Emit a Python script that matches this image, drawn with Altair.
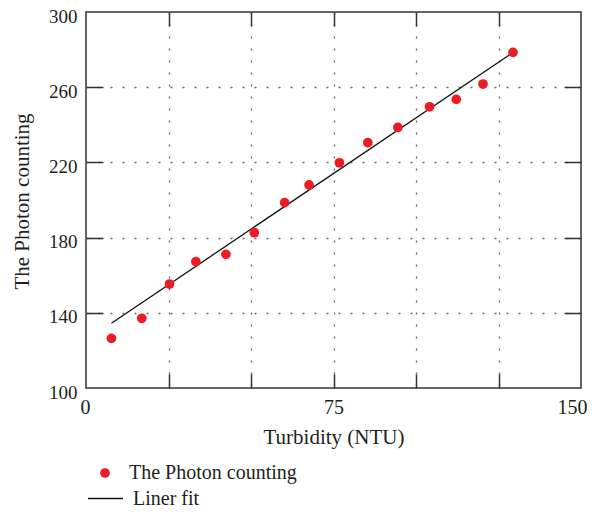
import altair as alt
import pandas as pd

# ---- data ----
turbidity = [7.7, 16.9, 25.3, 33.3, 42.4, 51.0, 60.2, 67.6, 76.8, 85.4, 94.5, 104.1, 112.2, 120.3, 129.4]
photon = [126.4, 137.1, 155.3, 167.2, 171.1, 182.6, 198.6, 208.0, 219.8, 230.5, 238.6, 249.6, 253.5, 261.7, 278.5]
fit_x = [7.7, 129.4]
fit_y = [134.4, 278.5]
x_label_values = [0, 75, 150]
y_label_values = [100, 140, 180, 220, 260, 300]
x_inner_ticks = [25, 50, 75, 100, 125]
y_inner_ticks = [140, 180, 220, 260]
point_series = "The Photon counting"
fit_series = "Liner fit"

pts = pd.DataFrame({"x": turbidity, "y": photon, "series": [point_series] * len(turbidity)})
fit = pd.DataFrame({"x": fit_x, "y": fit_y, "fitname": [fit_series] * len(fit_x)})

FONT = "Liberation Serif"
TXT = "#231f20"
FRAME = "#333333"
W, H = 495, 376

xs = alt.Scale(domain=[0, 150], nice=False, zero=False)
ys = alt.Scale(domain=[100, 300], nice=False, zero=False)

x_main = alt.Axis(orient="bottom", values=x_label_values, ticks=False, tickSize=0, domain=False,
                  grid=False, labelFont=FONT, labelFontSize=20, labelColor=TXT, labelPadding=25,
                  labelBaseline="alphabetic", labelFlush=True, labelFlushOffset=6,
                  labelOverlap=False,
                  title="Turbidity (NTU)", titleFont=FONT, titleFontSize=21, titleFontWeight="normal",
                  titleColor=TXT, titleX=W / 2, titleY=55, titleAlign="center",
                  titleBaseline="alphabetic")
y_main = alt.Axis(orient="left", values=y_label_values, ticks=False, tickSize=0, domain=False,
                  grid=False, labelFont=FONT, labelFontSize=19, labelColor=TXT, labelPadding=9,
                  labelAlign="right", labelBaseline="middle", labelOffset=4, labelFlush=False,
                  labelOverlap=False, title="The Photon counting", titleFont=FONT, titleFontSize=21,
                  titleFontWeight="normal", titleColor=TXT, titleAngle=270, titleX=-58,
                  titleY=H / 2 + 1, titleAlign="center", titleBaseline="alphabetic")

x_grid = alt.Axis(orient="bottom", values=x_inner_ticks, grid=True, gridDash=[2, 10],
                  gridColor="#666666", gridWidth=1.3, ticks=False, labels=False, domain=False, title=None)
y_grid = alt.Axis(orient="left", values=y_inner_ticks, grid=True, gridDash=[2, 10],
                  gridColor="#666666", gridWidth=1.3, ticks=False, labels=False, domain=False, title=None)


def tick_axis(orient, values, size):
    return alt.Axis(orient=orient, values=values, offset=-size, tickSize=size, ticks=True,
                    tickColor=FRAME, tickWidth=1.5, labels=False, domain=False, grid=False, title=None)


grid_layer = alt.Chart(pts).mark_point(opacity=0).encode(
    x=alt.X("x:Q", scale=xs, axis=x_grid),
    y=alt.Y("y:Q", scale=ys, axis=y_grid),
)

line_layer = alt.Chart(fit).mark_line(strokeWidth=1.3).encode(
    x=alt.X("x:Q", scale=xs, axis=None),
    y=alt.Y("y:Q", scale=ys, axis=None),
    stroke=alt.Stroke("fitname:N", scale=alt.Scale(domain=[fit_series], range=["#111111"]),
                      legend=alt.Legend(orient="none", legendX=1, legendY=468, padding=0, title=None,
                                        symbolType="stroke", symbolSize=1225, symbolStrokeWidth=1.3,
                                        labelOffset=9, labelFont=FONT, labelFontSize=20,
                                        labelColor=TXT, labelLimit=400)),
)

point_layer = alt.Chart(pts).mark_circle(size=95, opacity=1).encode(
    x=alt.X("x:Q", scale=xs, axis=x_main),
    y=alt.Y("y:Q", scale=ys, axis=y_main),
    color=alt.Color("series:N", scale=alt.Scale(domain=[point_series], range=["#ed1c24"]),
                    legend=alt.Legend(orient="none", legendX=9, legendY=451, padding=0, title=None,
                                      symbolType="circle", symbolSize=95, symbolOpacity=1,
                                      labelOffset=14, labelFont=FONT, labelFontSize=20,
                                      labelColor=TXT, labelLimit=400)),
)

ticks_a = alt.Chart(pts).mark_point(opacity=0).encode(
    x=alt.X("x:Q", scale=xs, axis=tick_axis("bottom", x_inner_ticks, 14)),
    y=alt.Y("y:Q", scale=ys, axis=tick_axis("left", y_inner_ticks, 17)),
)
ticks_b = alt.Chart(pts).mark_point(opacity=0).encode(
    x=alt.X("x:Q", scale=xs, axis=tick_axis("top", x_inner_ticks, 14)),
    y=alt.Y("y:Q", scale=ys, axis=tick_axis("right", y_inner_ticks, 17)),
)

chart = alt.layer(grid_layer, line_layer, point_layer, ticks_a, ticks_b).resolve_axis(
    x="independent", y="independent"
).properties(
    width=W, height=H,
    padding={"left": 78, "top": 4, "right": 8, "bottom": 122},
    autosize=alt.AutoSizeParams(type="none"),
).configure_view(stroke=FRAME, strokeWidth=1.5)

chart.save("out.html", embed_options={"renderer": "svg", "actions": False})
